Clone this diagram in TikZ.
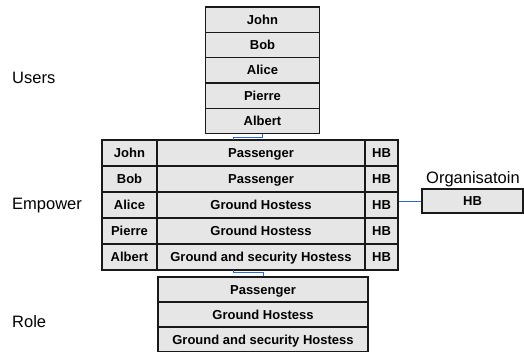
\documentclass[tikz,border=0pt]{standalone}
\usepackage{fontspec}
\setmainfont{Liberation Sans}
\definecolor{cellfill}{HTML}{E6E6E6}
\definecolor{conn}{HTML}{2F6BC0}
\begin{document}
\begin{tikzpicture}[x=1pt,y=-1pt,
  cell/.style={draw=black!90, fill=cellfill, line width=1.2pt, inner sep=0pt,
    text height=9.3pt, text depth=0pt,
    font=\bfseries\fontsize{13}{13}\selectfont, anchor=center},
  ucell/.style={cell, minimum width=114pt, minimum height=25.3pt},
  ncell/.style={cell, minimum width=55pt, minimum height=26pt},
  rcell/.style={cell, minimum width=208pt, minimum height=26pt},
  hcell/.style={cell, minimum width=33pt, minimum height=26pt},
  rolecell/.style={cell, minimum width=210pt, minimum height=25pt},
  lab/.style={font=\fontsize{16.5}{16.5}\selectfont, inner sep=0pt, anchor=base west},
  link/.style={draw=conn, line width=0.8pt}]
\useasboundingbox (0,0) rectangle (524,351);
% Users
\node[ucell] (u1) at (262.5,19.7) {John};
\node[ucell] (u2) at (262.5,45.0) {Bob};
\node[ucell] (u3) at (262.5,70.3) {Alice};
\node[ucell] (u4) at (262.5,95.6) {Pierre};
\node[ucell] (u5) at (262.5,120.9) {Albert};
% Empower
\node[ncell] (en1) at (129.5,153) {John};
\node[ncell] (en2) at (129.5,179) {Bob};
\node[ncell] (en3) at (129.5,205) {Alice};
\node[ncell] (en4) at (129.5,231) {Pierre};
\node[ncell] (en5) at (129.5,257) {Albert};
\node[rcell] (er1) at (261,153) {Passenger};
\node[rcell] (er2) at (261,179) {Passenger};
\node[rcell] (er3) at (261,205) {Ground Hostess};
\node[rcell] (er4) at (261,231) {Ground Hostess};
\node[rcell] (er5) at (261,257) {Ground and security Hostess};
\node[hcell] (eh1) at (381.5,153) {HB};
\node[hcell] (eh2) at (381.5,179) {HB};
\node[hcell] (eh3) at (381.5,205) {HB};
\node[hcell] (eh4) at (381.5,231) {HB};
\node[hcell] (eh5) at (381.5,257) {HB};
% Role
\node[rolecell] (r1) at (263,289.5) {Passenger};
\node[rolecell] (r2) at (263,314.5) {Ground Hostess};
\node[rolecell] (r3) at (263,339.5) {Ground and security Hostess};
% Organisation
\node[cell, minimum width=101pt, minimum height=24pt] (org) at (472.5,201) {HB};
\node[lab] (orglab) at (426,183) {Organisatoin};
% Left labels
\node[lab] (lusers) at (12,83) {Users};
\node[lab] (lemp) at (12,209.5) {Empower};
\node[lab] (lrole) at (12,327) {Role};
% Connectors
\coordinate (etop) at (233,140);
\coordinate (ebot) at (233,270);
\draw[link] (u5.south) -- ++(0,3) -| (etop);
\draw[link] (ebot) -- ++(0,2.5) -| (r1.north);
\draw[link] (org.west) -- (org.west -| eh3.east);
\end{tikzpicture}
\end{document}
